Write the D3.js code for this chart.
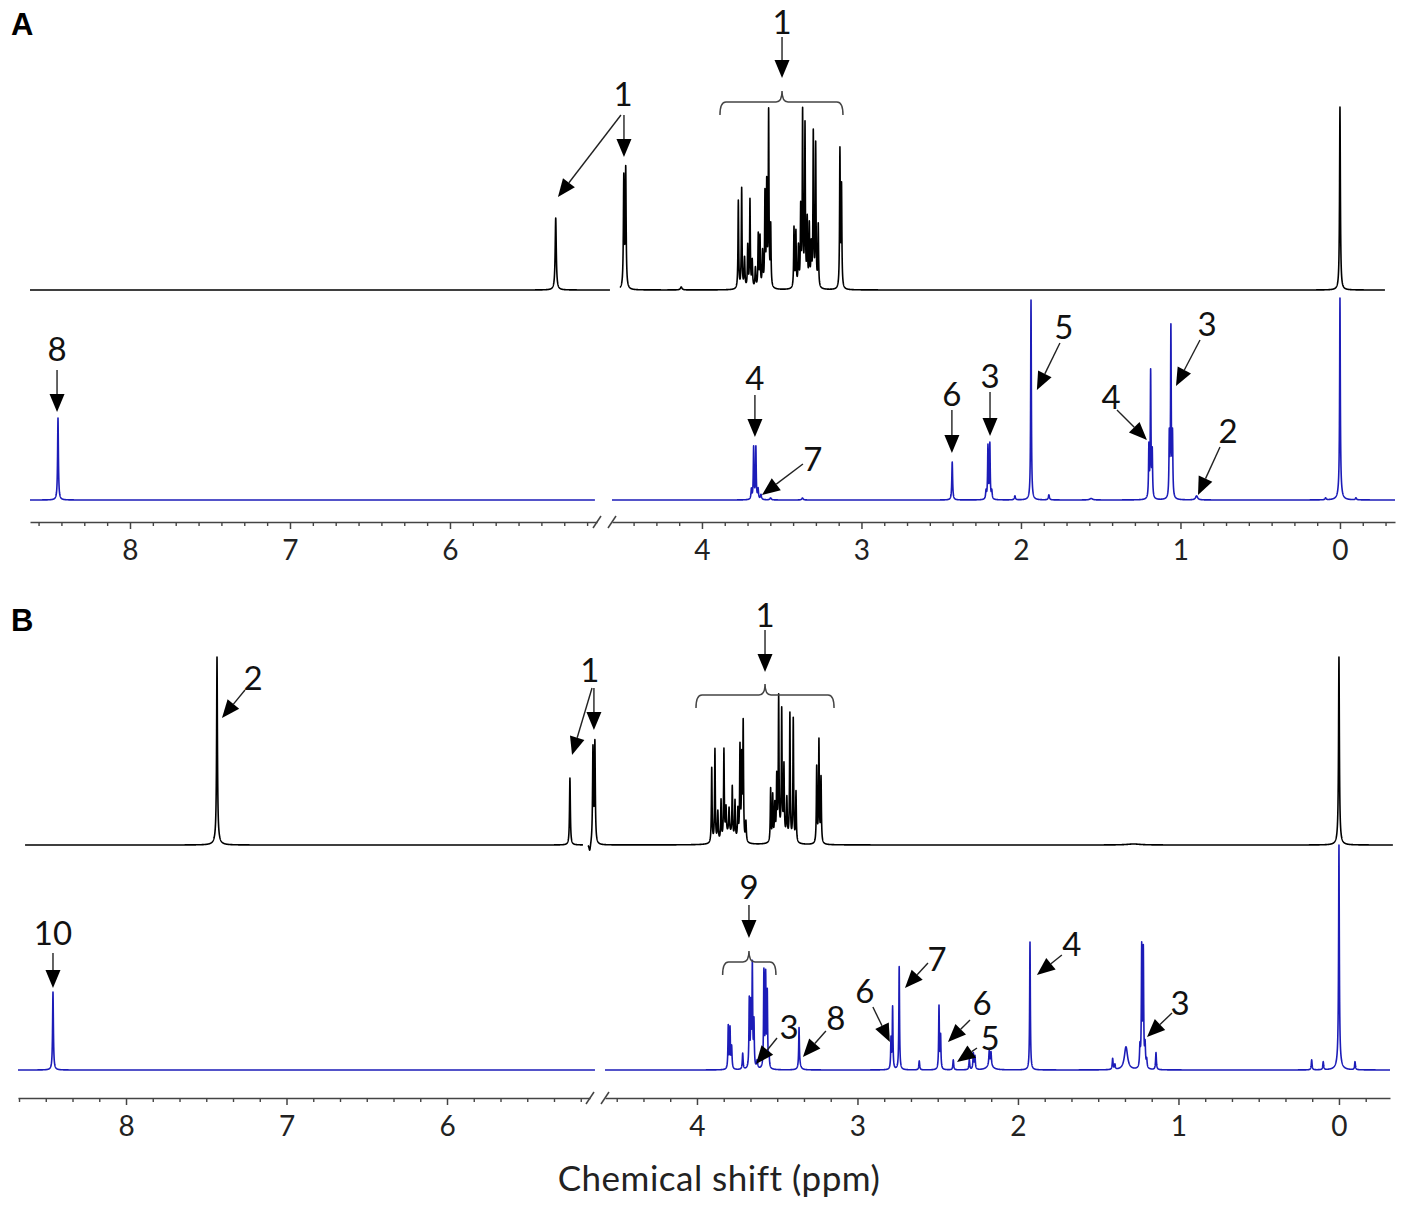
<!DOCTYPE html>
<html>
<head>
<meta charset="utf-8">
<script src="https://cdn.jsdelivr.net/npm/d3@7"></script>
<style>
  body { margin: 0; background: #fff; }
</style>
</head>
<body>
<div id="chart"></div>
<script>
// peak lists: [ppm, intensity, half width (ppm)]
const majorTicks = [8, 7, 6, 4, 3, 2, 1, 0];

// A, top trace (black)
const aControlPeaks = [
  [5.339, 72, 0.004],
  [4.490, 110, 0.003], [4.478, 118, 0.003],
  [4.130, 3, 0.006],
  [3.772, 88, 0.0025], [3.751, 100, 0.0025], [3.733, 30, 0.003], [3.713, 42, 0.0025],
  [3.699, 88, 0.0025], [3.685, 27, 0.003], [3.665, 20, 0.003], [3.647, 53, 0.0025],
  [3.636, 50, 0.0025], [3.620, 35, 0.003], [3.605, 92, 0.0025], [3.594, 100, 0.0025],
  [3.582, 174, 0.0025], [3.569, 60, 0.0025],
  [3.423, 60, 0.0025], [3.411, 55, 0.0025], [3.395, 40, 0.003], [3.381, 77, 0.0025],
  [3.369, 173, 0.0025], [3.354, 160, 0.0025], [3.340, 65, 0.0025], [3.327, 60, 0.0025],
  [3.315, 40, 0.003], [3.302, 153, 0.0025], [3.287, 142, 0.0025], [3.271, 62, 0.0025],
  [3.135, 137, 0.0025], [3.125, 100, 0.0025],
  [0.000, 183, 0.003]
];

// A, bottom trace (blue)
const aSamplePeaks = [
  [8.450, 82, 0.003],
  [3.690, 10, 0.003], [3.676, 52, 0.0025], [3.662, 52, 0.0025], [3.648, 10, 0.003],
  [3.630, 5, 0.004],
  [3.570, 2, 0.005], [3.370, 2, 0.005],
  [2.431, 38, 0.003],
  [2.219, 8, 0.003], [2.207, 53, 0.0025], [2.195, 55, 0.0025], [2.183, 8, 0.003],
  [2.038, 4, 0.004],
  [1.937, 200, 0.0025],
  [1.825, 5, 0.004],
  [1.560, 1.5, 0.01],
  [1.198, 51, 0.0025], [1.187, 126, 0.0025], [1.177, 45, 0.0025],
  [1.070, 61, 0.0025], [1.060, 169, 0.0025], [1.050, 61, 0.0025],
  [0.899, 4, 0.008],
  [0.090, 2, 0.004],
  [0.000, 190, 0.0025], [0.000, 12, 0.01],
  [-0.100, 2, 0.004]
];

// B, top trace (black)
const bControlPeaks = [
  [7.433, 182, 0.003], [7.433, 6, 0.015],
  [5.234, 67, 0.003],
  [4.668, -8, 0.006],
  [4.648, 95, 0.003], [4.636, 100, 0.003],
  [3.908, 75, 0.0025], [3.888, 93, 0.0025], [3.870, 30, 0.003], [3.850, 40, 0.0025],
  [3.832, 89, 0.0025], [3.819, 28, 0.003], [3.800, 25, 0.003], [3.780, 50, 0.0025],
  [3.763, 38, 0.0025], [3.745, 30, 0.003], [3.732, 93, 0.0025], [3.721, 80, 0.0025],
  [3.712, 117, 0.0025], [3.695, 20, 0.003],
  [3.541, 53, 0.0025], [3.528, 45, 0.0025], [3.515, 35, 0.003], [3.503, 60, 0.0025],
  [3.491, 139, 0.0025], [3.472, 122, 0.0025], [3.458, 68, 0.0025], [3.440, 40, 0.003],
  [3.421, 127, 0.0025], [3.400, 123, 0.0025], [3.383, 50, 0.0025],
  [3.254, 76, 0.0025], [3.240, 102, 0.0025], [3.227, 65, 0.0025],
  [3.800, 10, 0.03], [3.470, 10, 0.025],
  [1.280, 1, 0.05],
  [0.000, 182, 0.003], [0.000, 6, 0.012]
];

// B, bottom trace (blue)
const bSamplePeaks = [
  [8.455, 78, 0.003],
  [3.805, 43, 0.0025], [3.794, 40, 0.0025], [3.784, 22, 0.003],
  [3.715, 16, 0.003],
  [3.674, 68, 0.0025], [3.664, 60, 0.0025], [3.655, 101, 0.0025], [3.645, 45, 0.0025],
  [3.625, 8, 0.004],
  [3.583, 96, 0.0025], [3.572, 91, 0.0025], [3.562, 74, 0.0025], [3.551, 12, 0.003],
  [3.364, 39, 0.0025], [3.360, 4, 0.01],
  [2.791, 30, 0.0025], [2.781, 62, 0.0025],
  [2.740, 103, 0.0025],
  [2.615, 9, 0.003],
  [2.492, 63, 0.0025], [2.482, 33, 0.0025],
  [2.403, 10, 0.003],
  [2.303, 10, 0.003],
  [2.278, 16, 0.003], [2.268, 13, 0.003],
  [2.179, 14, 0.003], [2.168, 13, 0.003], [2.175, 5, 0.02],
  [1.925, 128, 0.0025],
  [1.410, 11, 0.003], [1.396, 5, 0.003],
  [1.327, 23, 0.012],
  [1.240, 20, 0.003], [1.229, 119, 0.0025], [1.219, 116, 0.0025], [1.208, 22, 0.003],
  [1.198, 8, 0.003],
  [1.140, 17, 0.003],
  [0.170, 10, 0.003], [0.098, 8, 0.003],
  [0.000, 172, 0.003], [0.000, 45, 0.0015], [0.000, 8, 0.015],
  [-0.100, 8, 0.003]
];

// peak labels: tip at (ppm, intensity); dx/dy tail offset, lx/ly label offset (px)
const aControlNotes = [
  { ppm: 5.325, v: 93, seg: 'L', dx: 63, dy: -82 },
  { t: '1', ppm: 4.489, v: 133, seg: 'R', dx: 0, dy: -42, lx: -1, ly: -64 },
  { t: '1', ppm: 3.498, v: 212, seg: 'R', dx: 0, dy: -41, lx: 0, ly: -57, brace: { from: 3.887, to: 3.116, v: 188 } }
];
const aSampleNotes = [
  { t: '8', ppm: 8.456, v: 88, seg: 'L', dx: 0, dy: -42, lx: 0, ly: -64 },
  { t: '4', ppm: 3.668, v: 63, seg: 'R', dx: 0, dy: -42, lx: 0, ly: -60 },
  { t: '7', ppm: 3.624, v: 5, seg: 'R', dx: 41, dy: -31, lx: 51, ly: -37 },
  { t: '6', ppm: 2.433, v: 47, seg: 'R', dx: 0, dy: -43, lx: 0, ly: -60 },
  { t: '3', ppm: 2.194, v: 64, seg: 'R', dx: 0, dy: -44, lx: 0, ly: -61 },
  { t: '5', ppm: 1.900, v: 110, seg: 'R', dx: 23, dy: -47, lx: 27, ly: -64 },
  { t: '4', ppm: 1.210, v: 60, seg: 'R', dx: -30, dy: -30, lx: -36, ly: -44 },
  { t: '3', ppm: 1.028, v: 114, seg: 'R', dx: 24, dy: -46, lx: 31, ly: -63 },
  { t: '2', ppm: 0.890, v: 5, seg: 'R', dx: 22, dy: -48, lx: 30, ly: -65 }
];
const bControlNotes = [
  { t: '2', ppm: 7.402, v: 127, seg: 'L', dx: 23, dy: -28, lx: 31, ly: -41 },
  { ppm: 5.221, v: 90, seg: 'L', dx: 20, dy: -67 },
  { t: '1', ppm: 4.642, v: 115, seg: 'R', dx: 0, dy: -42, lx: -4, ly: -61 },
  { t: '1', ppm: 3.576, v: 173, seg: 'R', dx: 0, dy: -42, lx: 0, ly: -58, brace: { from: 4.006, to: 3.146, v: 150 } }
];
const bSampleNotes = [
  { t: '10', ppm: 8.455, v: 82, seg: 'L', dx: 0, dy: -35, lx: 0, ly: -56 },
  { t: '9', ppm: 3.676, v: 132, seg: 'R', dx: 0, dy: -33, lx: 0, ly: -52, brace: { from: 3.840, to: 3.508, v: 108 } },
  { t: '3', ppm: 3.632, v: 6, seg: 'R', dx: 21, dy: -26, lx: 33, ly: -38 },
  { t: '8', ppm: 3.340, v: 13, seg: 'R', dx: 23, dy: -26, lx: 33, ly: -40 },
  { t: '6', ppm: 2.798, v: 28, seg: 'R', dx: -17, dy: -35, lx: -25, ly: -52 },
  { t: '7', ppm: 2.704, v: 82, seg: 'R', dx: 23, dy: -25, lx: 32, ly: -30 },
  { t: '6', ppm: 2.436, v: 28, seg: 'R', dx: 22, dy: -22, lx: 34, ly: -40 },
  { t: '5', ppm: 2.380, v: 8, seg: 'R', dx: 20, dy: -14, lx: 33, ly: -25 },
  { t: '4', ppm: 1.882, v: 95, seg: 'R', dx: 25, dy: -20, lx: 35, ly: -32 },
  { t: '3', ppm: 1.196, v: 33, seg: 'R', dx: 25, dy: -24, lx: 33, ly: -35 }
];

// layout of the two panels
const panels = [
  {
    letter: 'A', letterY: 35, axisY: 522, minorPerPpm: 7,
    left: { domain: [8.625, 5.081], range: [30, 597] },
    right: { domain: [4.564, -0.345], range: [612, 1395] },
    traces: [
      { peaks: aControlPeaks, notes: aControlNotes, base: 290, color: '#000', segs: [[8.625, 5.0, 'L'], [4.514, -0.282, 'R']] },
      { peaks: aSamplePeaks, notes: aSampleNotes, base: 500, color: '#1c1cb8', segs: [[8.625, 5.094, 'L'], [4.564, -0.345, 'R']] }
    ]
  },
  {
    letter: 'B', letterY: 631, axisY: 1098, minorPerPpm: 6,
    left: { domain: [8.673, 5.109], range: [18, 590] },
    right: { domain: [4.573, -0.318], range: [605, 1390] },
    traces: [
      { peaks: bControlPeaks, notes: bControlNotes, base: 845, color: '#000', segs: [[8.629, 5.153, 'L'], [4.679, -0.336, 'R']] },
      { peaks: bSamplePeaks, notes: bSampleNotes, base: 1070, color: '#1c1cb8', segs: [[8.673, 5.078, 'L'], [4.573, -0.318, 'R']] }
    ]
  }
];

const W = 1406, H = 1213;
const svg = d3.select('#chart').append('svg')
  .attr('width', W).attr('height', H)
  .style('font-family', 'Lato, "Open Sans", sans-serif');

// sum of lorentzian lines over a ppm grid
function spectrum(peaks, hi, lo) {
  let pts = d3.range(hi, lo, -0.0007);
  pts.push(lo);
  peaks.forEach(p => { if (p[0] < hi && p[0] > lo) pts.push(p[0]); });
  pts.sort((a, b) => b - a);
  return pts.map(x => {
    let s = 0;
    peaks.forEach(p => {
      let d = x - p[0];
      s += p[1] * p[2] * p[2] / (d * d + p[2] * p[2]);
    });
    return [x, s];
  });
}

function arrowHead(tx, ty, sx, sy) {
  let ang = Math.atan2(ty - sy, tx - sx);
  let len = 18, hw = 7.5;
  let bx = tx - len * Math.cos(ang), by = ty - len * Math.sin(ang);
  let px = -Math.sin(ang) * hw, py = Math.cos(ang) * hw;
  return { bx, by, d: `M${tx},${ty}L${bx + px},${by + py}L${bx - px},${by - py}Z` };
}

panels.forEach(p => {
  let xL = d3.scaleLinear().domain(p.left.domain).range(p.left.range);
  let xR = d3.scaleLinear().domain(p.right.domain).range(p.right.range);
  let xOf = (ppm, seg) => seg === 'L' ? xL(ppm) : xR(ppm);

  svg.append('text')
    .attr('x', 11).attr('y', p.letterY)
    .style('font-family', '"Liberation Sans", Arial, sans-serif')
    .style('font-weight', 'bold').style('font-size', '31px')
    .text(p.letter);

  // spectra
  p.traces.forEach(tr => {
    let y = d3.scaleLinear().domain([0, 100]).range([tr.base, tr.base - 100]);
    tr.segs.forEach(sg => {
      let data = spectrum(tr.peaks, sg[0], sg[1]);
      let line = d3.line().x(d => xOf(d[0], sg[2])).y(d => y(d[1]));
      svg.append('path')
        .attr('d', line(data))
        .attr('fill', 'none')
        .attr('stroke', tr.color)
        .attr('stroke-width', 1.6)
        .attr('stroke-linejoin', 'round');
    });

    // annotations
    let g = svg.append('g');
    tr.notes.forEach(n => {
      let tx = xOf(n.ppm, n.seg), ty = y(n.v);
      let sx = tx + n.dx, sy = ty + n.dy;
      let h = arrowHead(tx, ty, sx, sy);
      g.append('line')
        .attr('x1', sx).attr('y1', sy).attr('x2', h.bx).attr('y2', h.by)
        .attr('stroke', '#222').attr('stroke-width', 1.4);
      g.append('path').attr('d', h.d).attr('fill', '#000');
      if (n.t) {
        g.append('text')
          .attr('x', tx + n.lx).attr('y', ty + n.ly)
          .attr('text-anchor', 'middle')
          .attr('dominant-baseline', 'central')
          .style('font-size', '33px').style('fill', '#111')
          .text(n.t);
      }
      if (n.brace) {
        let x1 = xOf(n.brace.from, n.seg), x2 = xOf(n.brace.to, n.seg);
        let by = y(n.brace.v), xc = tx, r = 6, hgt = 13, nch = 11;
        g.append('path')
          .attr('d', `M${x1},${by + hgt}Q${x1},${by} ${x1 + r},${by}L${xc - r},${by}` +
            `Q${xc},${by} ${xc},${by - nch}Q${xc},${by} ${xc + r},${by}L${x2 - r},${by}Q${x2},${by} ${x2},${by + hgt}`)
          .attr('fill', 'none').attr('stroke', '#444').attr('stroke-width', 1.5);
      }
    });
  });

  // broken x axis
  [[xL, p.left], [xR, p.right]].forEach(([sc, cfg]) => {
    let lo = Math.min(...cfg.domain), hi = Math.max(...cfg.domain);
    let n = p.minorPerPpm;
    let minor = d3.range(Math.ceil(lo * n), Math.floor(hi * n) + 1)
      .map(k => k / n)
      .filter(v => Math.abs(v - Math.round(v)) > 1e-6);
    let major = majorTicks.filter(v => v >= lo && v <= hi);

    let ax = svg.append('g').attr('transform', `translate(0,${p.axisY})`)
      .call(d3.axisBottom(sc).tickValues(major).tickSize(7).tickSizeOuter(0)
        .tickPadding(11).tickFormat(d3.format('d')));
    ax.select('.domain').attr('stroke', '#444').attr('stroke-width', 1.5);
    ax.selectAll('.tick line').attr('stroke', '#444').attr('stroke-width', 1.5);
    ax.selectAll('.tick text')
      .style('font-family', 'Lato, "Open Sans", sans-serif')
      .style('font-size', '28px').attr('fill', '#222');

    let mx = svg.append('g').attr('transform', `translate(0,${p.axisY})`)
      .call(d3.axisBottom(sc).tickValues(minor).tickSize(4).tickFormat(''));
    mx.select('.domain').remove();
    mx.selectAll('.tick line').attr('stroke', '#444').attr('stroke-width', 1.4);
  });

  // break marks
  [p.left.range[1], p.right.range[0]].forEach(bx => {
    svg.append('line')
      .attr('x1', bx - 4).attr('y1', p.axisY + 6)
      .attr('x2', bx + 4).attr('y2', p.axisY - 6)
      .attr('stroke', '#444').attr('stroke-width', 1.5);
  });
});

svg.append('text')
  .attr('x', 719).attr('y', 1191)
  .attr('text-anchor', 'middle')
  .style('font-size', '35px').style('letter-spacing', '0.5px').style('fill', '#222')
  .text('Chemical shift (ppm)');
</script>
</body>
</html>
